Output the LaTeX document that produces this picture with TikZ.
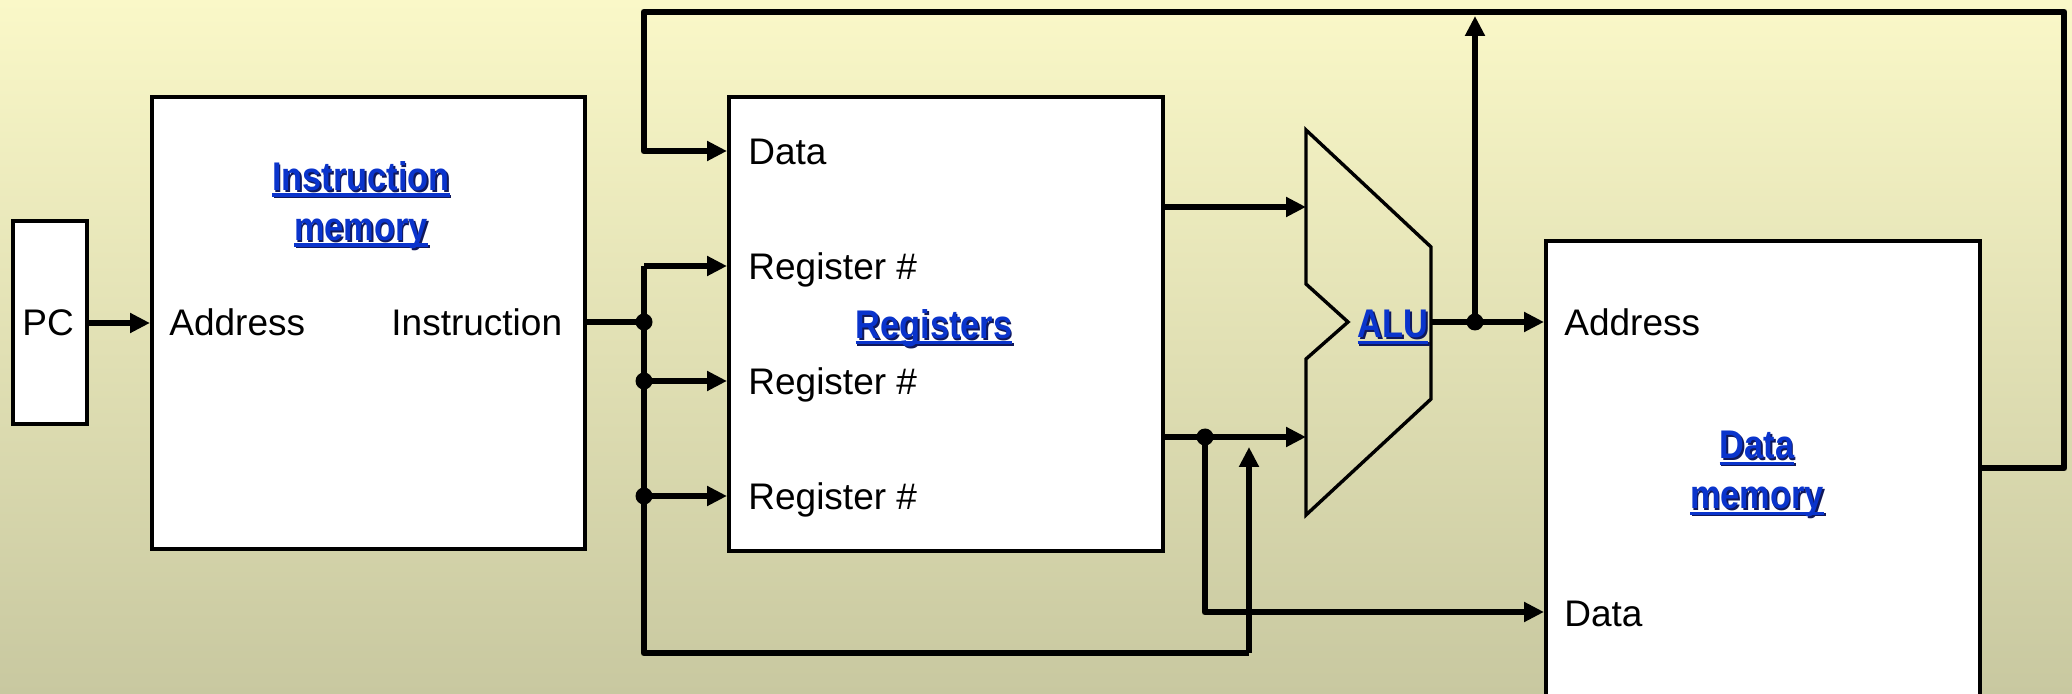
\documentclass[tikz,border=0pt]{standalone}
\usepackage{fontspec}
\usepackage{graphicx}
\setmainfont{Liberation Sans}
\usetikzlibrary{arrows.meta,calc}

\definecolor{bgtop}{RGB}{250,248,200}
\definecolor{bgbot}{RGB}{200,200,160}
\definecolor{ttlblue}{RGB}{10,52,204}
\definecolor{ttlshade}{RGB}{16,24,90}

% underlined, slightly narrowed title word with a small drop shadow
\newcommand\ulword[1]{%
  \setbox0\hbox{\scalebox{0.86}[1]{#1}}%
  \hbox{\copy0\kern-\wd0\rule[-3pt]{\wd0}{1.6pt}}}
\newcommand\shtitle[1]{%
  \setbox2\hbox{\ulword{#1}}%
  \rlap{\raisebox{-0.8pt}{\kern0.8pt\color{ttlshade}\copy2}}%
  {\color{ttlblue}\box2}}

\tikzset{
  box/.style={draw, line width=2pt, fill=white, inner sep=0pt},
  wire/.style={line width=3.4pt, line join=round},
  arr/.style={wire, -{Triangle[length=10pt,width=9.5pt]}},
  dot/.style={circle, fill=black, inner sep=0pt, minimum size=8.5pt},
  lbl/.style={font=\fontsize{18.5}{22}\selectfont, inner sep=0pt, anchor=base west},
  ttl/.style={font=\fontsize{20}{24}\selectfont\bfseries, inner sep=0pt, align=center},
}

\begin{document}
\begin{tikzpicture}[x=0.5pt,y=-0.5pt]
% backdrop
\shade[top color=bgtop, bottom color=bgbot] (0,0) rectangle (2072,694);
\useasboundingbox (0,0) rectangle (2072,694);

% blocks
\node[box, minimum width=37pt, minimum height=101.5pt] (pc) at (50,323) {};
\node[box, minimum width=216.5pt, minimum height=226pt] (im) at (368.5,323) {};
\node[box, minimum width=217pt, minimum height=227pt] (reg) at (946,324) {};
\node[box, minimum width=217pt, minimum height=232pt] (dm) at (1763,473) {};

% ALU outline
\draw[line width=1.7pt, line join=miter]
  (1306,130) -- (1431,247) -- (1431,399) -- (1306,515) -- (1306,359)
  -- (1348,322) -- (1306,284) -- cycle;
\coordinate (aluA) at (1306,207);
\coordinate (aluB) at (1306,437);
\coordinate (aluOut) at (1431,322);

% texts inside the blocks (base lines)
\node[lbl] (pcT) at (22,336) {PC};
\node[lbl] (imAddr) at (169,336) {Address};
\node[lbl] (imIns) at (391,336) {Instruction};
\node[ttl] (imT) at (361,206) {\shtitle{Instruction}\\[1pt]\shtitle{memory}};

\node[lbl] (rData) at (748,165) {Data};
\node[lbl] (rN1) at (748,280) {Register \#};
\node[lbl] (rN2) at (748,395) {Register \#};
\node[lbl] (rN3) at (748,510) {Register \#};
\node[ttl] (rT) at (934,329) {\shtitle{Registers}};

\node[ttl] (aT) at (1393,328) {\shtitle{ALU}};

\node[lbl] (dAddr) at (1564,336) {Address};
\node[lbl] (dData) at (1564,626) {Data};
\node[ttl] (dT) at (1757,475) {\shtitle{Data}\\[1pt]\shtitle{memory}};

% junctions and bends
\coordinate (jIns) at (644,322);
\coordinate (jR2) at (644,381);
\coordinate (jR3) at (644,496);
\coordinate (busTop) at (644,266);
\coordinate (busBot) at (644,653);
\coordinate (immB) at (1249,653);
\coordinate (immT) at (1249,447);
\coordinate (jRout) at (1205,437);
\coordinate (stBot) at (1205,612);
\coordinate (jAlu) at (1475,322);
\coordinate (fbTip) at (1475,16);
\coordinate (fbR) at (2064,468);
\coordinate (fbTR) at (2064,12);
\coordinate (fbTL) at (644,12);
\coordinate (fbL) at (644,151);

% PC to instruction memory
\draw[arr] (pc.east) -- (im.west |- pc.east);

% instruction bus to register ports
\draw[wire] (im.east |- jIns) -- (jIns);
\draw[arr] (busTop) -- (reg.west |- busTop);
\draw[wire] (busTop) -- (busBot) -- (immB);
\draw[arr] (jR2) -- (reg.west |- jR2);
\draw[arr] (jR3) -- (reg.west |- jR3);
\draw[arr] (immB) -- (immT);

% register outputs
\draw[arr] (reg.east |- aluA) -- (aluA);
\draw[arr] (reg.east |- aluB) -- (aluB);
\draw[arr] (jRout) -- (stBot) -- (dm.west |- stBot);

% ALU result
\draw[arr] (aluOut) -- (dm.west |- aluOut);
\draw[arr] (jAlu) -- (fbTip);

% write-back loop
\draw[arr] (dm.east |- fbR) -- (fbR) -- (fbTR) -- (fbTL) -- (fbL) -- (reg.west |- fbL);

% junction dots
\foreach \j in {jIns,jR2,jR3,jRout,jAlu} \node[dot] at (\j) {};
\end{tikzpicture}
\end{document}
